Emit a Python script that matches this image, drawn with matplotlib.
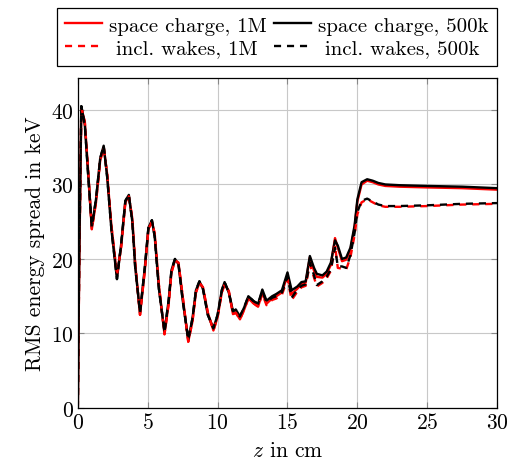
import numpy as np
import matplotlib.pyplot as plt

plt.rcParams['font.family'] = 'serif'
plt.rcParams['font.serif'] = ['cmr10']
plt.rcParams['mathtext.fontset'] = 'cm'
plt.rcParams['axes.formatter.use_mathtext'] = True

# position along the beamline in cm
z = [0, 0.1, 0.25, 0.5, 0.75, 1.0, 1.3, 1.6, 1.85, 2.1, 2.4, 2.8, 3.1, 3.4, 3.65,
     3.9, 4.1, 4.45, 4.8, 5.05, 5.3, 5.5, 5.8, 6.2, 6.5, 6.7, 6.95, 7.2, 7.5, 7.9,
     8.2, 8.45, 8.7, 8.95, 9.3, 9.7, 10.0, 10.3, 10.5, 10.8, 11.1, 11.3, 11.6, 11.9,
     12.2, 12.6, 12.9, 13.2, 13.5, 13.9, 14.2, 14.6, 15.0, 15.3, 15.7, 16.0, 16.3,
     16.6, 16.9, 17.1, 17.5, 17.8, 18.1, 18.4, 18.6, 18.9, 19.2, 19.5, 19.8, 20.0,
     20.3, 20.7, 21.1, 21.5, 22.0, 23.0, 25.0, 27.5, 30.0]

# RMS energy spread in keV
sc_500k = [0, 20, 40.5, 38, 31, 24.3, 28, 33.5, 35.2, 31, 24, 17.3, 22, 27.8, 28.6,
           25, 19, 12.8, 19, 24.2, 25.2, 23, 16, 10.2, 14.5, 18.5, 20, 19.3, 14.5, 9.2,
           12, 15.8, 17, 16, 12.5, 10.7, 12.5, 15.8, 16.9, 15.5, 13, 13.2, 12.3, 13.5,
           15, 14.3, 14, 15.9, 14.4, 15, 15.3, 15.8, 18.2, 15.8, 16.3, 16.9, 17.0,
           20.4, 18.8, 18, 17.8, 18.3, 19.5, 22.5, 21.8, 20.0, 20.2, 21.5, 24.5, 28.0,
           30.3, 30.7, 30.5, 30.2, 30.0, 29.9, 29.8, 29.7, 29.5]
sc_1M = [0, 19, 40.3, 38.4, 31.5, 24.0, 27.6, 33.2, 35.0, 31.4, 24.5, 17.8, 21.6, 27.6, 28.4,
         25.4, 19.5, 12.5, 18.6, 24.0, 25.0, 23.4, 16.5, 9.9, 14.0, 18.2, 19.8, 19.5, 15.0, 8.9,
         11.6, 15.5, 16.8, 16.2, 12.8, 10.4, 12.2, 15.5, 16.6, 15.7, 12.6, 12.8, 11.9, 13.2,
         14.7, 14.0, 13.6, 15.5, 14.0, 14.7, 15.0, 15.5, 17.8, 15.3, 16.0, 16.6, 16.8,
         20.2, 18.4, 17.6, 17.5, 18.0, 19.2, 22.8, 21.5, 19.7, 19.9, 21.2, 24.2, 27.7,
         30.0, 30.5, 30.3, 30.0, 29.8, 29.7, 29.6, 29.5, 29.3]
wk_500k = [0, 20, 40.5, 38, 31, 24.3, 28, 33.5, 35.2, 31, 24, 17.3, 22, 27.8, 28.6,
           25, 19, 12.8, 19, 24.2, 25.2, 23, 16, 10.2, 14.5, 18.5, 20, 19.3, 14.5, 9.2,
           12, 15.8, 17, 16, 12.5, 10.7, 12.5, 15.8, 16.9, 15.5, 13, 13.2, 12.3, 13.5,
           15, 14.3, 14, 15.7, 14.2, 14.8, 15.0, 15.5, 17.6, 14.8, 15.9, 16.4, 16.6,
           19.5, 17.8, 16.5, 17.0, 17.6, 18.6, 21.5, 19.0, 19.0, 18.8, 20.5, 23.5, 26.3,
           27.8, 28.1, 27.7, 27.3, 27.1, 27.1, 27.2, 27.4, 27.5]
wk_1M = [0, 19, 40.3, 38.4, 31.5, 24.0, 27.6, 33.2, 35.0, 31.4, 24.5, 17.8, 21.6, 27.6, 28.4,
         25.4, 19.5, 12.5, 18.6, 24.0, 25.0, 23.4, 16.5, 9.9, 14.0, 18.2, 19.8, 19.5, 15.0, 8.9,
         11.6, 15.5, 16.8, 16.2, 12.8, 10.4, 12.2, 15.5, 16.6, 15.7, 12.6, 12.8, 11.9, 13.2,
         14.7, 14.0, 13.6, 15.3, 13.8, 14.5, 14.7, 15.2, 17.3, 14.5, 15.6, 16.2, 16.4,
         19.3, 17.5, 16.3, 16.8, 17.4, 18.4, 21.8, 18.8, 18.7, 18.6, 20.2, 23.2, 26.0,
         27.6, 28.0, 27.6, 27.2, 27.0, 27.0, 27.1, 27.3, 27.4]

fs = 15.5

fig = plt.figure(figsize=(5.12, 4.64), dpi=100)
ax = fig.add_axes([0.152, 0.1185, 0.819, 0.7115])

l1, = ax.plot(z, sc_1M, color='red', lw=1.7)
l2, = ax.plot(z, sc_500k, color='black', lw=1.7)
l3, = ax.plot(z, wk_1M, color='red', lw=1.7, ls=(0, (3, 2.5)))
l4, = ax.plot(z, wk_500k, color='black', lw=1.7, ls=(0, (3, 2.5)))

ax.set_xlim(0, 30)
ax.set_ylim(0, 44.3)
ax.set_xticks([0, 5, 10, 15, 20, 25, 30])
ax.set_yticks([0, 10, 20, 30, 40])
ax.grid(True, color='#c8c8c8', lw=0.8)
ax.set_axisbelow(True)
ax.tick_params(direction='in', top=True, right=True, labelsize=fs, length=4,
               color='#888888', pad=3)
for s in ax.spines.values():
    s.set_linewidth(0.9)

ax.set_xlabel('$z$ in cm', fontsize=fs, labelpad=6)
ax.set_ylabel('RMS energy spread in keV', fontsize=fs, labelpad=4)

leg = fig.legend([l1, l3, l2, l4],
                 ['space charge, 1M', ' incl. wakes, 1M', 'space charge, 500k', ' incl. wakes, 500k'],
                 ncol=2, loc='upper center', bbox_to_anchor=(0.541, 0.99), fontsize=15,
                 fancybox=False, edgecolor='black', framealpha=1, handlelength=1.75,
                 columnspacing=0.35, handletextpad=0.35, borderpad=0.4, labelspacing=0.2,
                 borderaxespad=0.2)
leg.get_frame().set_linewidth(0.9)

fig.savefig('out.png', dpi=100)
